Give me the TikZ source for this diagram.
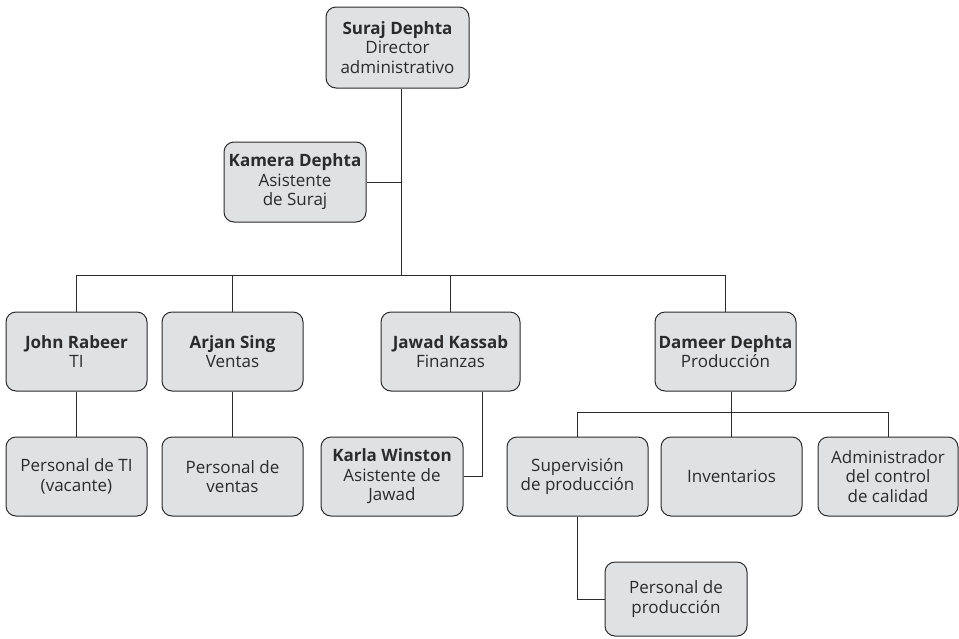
\documentclass[tikz,border=0pt]{standalone}
\usepackage{fontspec}
\setmainfont{Open Sans}
\usepackage{tikz}

\definecolor{boxfill}{HTML}{E0E1E3}
\definecolor{ink}{HTML}{2B2B2B}

\begin{document}
\begin{tikzpicture}[x=1pt,y=-1pt,
    post/.style ={rectangle, rounded corners=10pt, draw=ink, fill=boxfill, line width=1pt,
      minimum width=141pt, minimum height=79pt, inner sep=0pt, align=center,
      text=ink, font=\fontsize{17}{19.5}\selectfont},
    link/.style ={draw=ink, line width=0.9pt}]
   \useasboundingbox (0,0) rectangle (959,638);
   \node[post] (sd) [minimum width=143pt, minimum height=81pt] at (397.5,47.5) {\textbf{Suraj Dephta}\\Director\\administrativo};
   \node[post] (kd) [minimum width=142pt, minimum height=80pt] at (295,182) {\textbf{Kamera Dephta}\\Asistente\\de Suraj};
   \node[post] (jr) at (76.5,351.5) {\textbf{John Rabeer}\\TI};
   \node[post] (as) at (232.5,351.5) {\textbf{Arjan Sing}\\Ventas};
   \node[post] (jk) [minimum width=139pt] at (450.5,351.5) {\textbf{Jawad Kassab}\\Finanzas};
   \node[post] (dd) at (725.5,351.5) {\textbf{Dameer Dephta}\\Producción};
   \node[post] (pti) at (76.5,476.5) {Personal de TI\\(vacante)};
   \node[post] (pv) at (232.5,476.5) {Personal de\\ventas};
   \node[post] (kw) [minimum width=142pt] at (392,476.5) {\textbf{Karla Winston}\\Asistente de\\Jawad};
   \node[post] (sp) at (577.5,476.5) {Supervisión\\de producción};
   \node[post] (inv) at (731.5,476.5) {Inventarios};
   \node[post] (acc) [minimum width=140pt] at (888,476.5) {Administrador\\del control\\de calidad};
   \node[post] (pp) [minimum width=142pt, minimum height=74pt] at (676,599) {Personal de\\producción};
   \coordinate (bus) at (401,275);
   \coordinate (pbus) at (731,412);
   \draw[link] (sd.south -| bus) -- (bus);
   \draw[link] (kd.east) -- (kd.east -| bus);
   \draw[link] (jr.north) |- (dd.north |- bus) -- (dd.north);
   \draw[link] (as.north) -- (as.north |- bus);
   \draw[link] (jk.north) -- (jk.north |- bus);
   \draw[link] (jr) -- (pti);
   \draw[link] (as) -- (pv);
   \draw[link] ([xshift=31.5pt]jk.south) |- (kw.east);
   \draw[link] (dd.south -| pbus) -- (pbus);
   \draw[link] (sp.north) |- (acc.north |- pbus) -- (acc.north);
   \draw[link] (inv.north) -- (inv.north |- pbus);
   \draw[link] (sp.south) |- (pp.west);
 \end{tikzpicture}
\end{document}
